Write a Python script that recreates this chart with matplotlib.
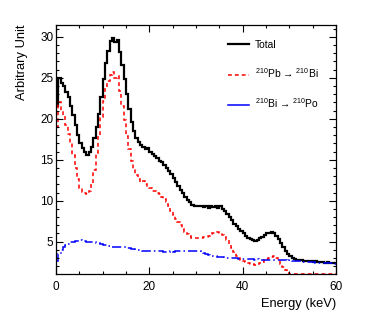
import numpy as np
import matplotlib
matplotlib.use('Agg')
import matplotlib.pyplot as plt
from matplotlib.lines import Line2D

plt.rcParams['font.family'] = ['Liberation Sans', 'DejaVu Sans']
plt.rcParams['mathtext.fontset'] = 'custom'
plt.rcParams['mathtext.rm'] = 'Liberation Sans'
plt.rcParams['mathtext.it'] = 'Liberation Sans:italic'

# energy bins, 0.5 keV wide
edges = np.arange(0, 60.01, 0.5)

total = [21.5, 25.0, 24.4, 24.0, 23.3, 22.6, 21.6, 20.5, 19.2, 18.0, 17.1, 16.4,
         15.9, 15.6, 15.9, 16.6, 17.6, 19.0, 20.6, 22.6, 24.8, 26.8, 28.3, 29.5,
         29.9, 29.4, 29.6, 28.2, 26.6, 24.8, 23.0, 21.2, 19.6, 18.5, 17.7, 17.2,
         16.8, 16.5, 16.3, 16.4, 15.9, 15.7, 15.4, 15.2, 14.9, 14.7, 14.3, 14.0,
         13.6, 13.2, 12.8, 12.3, 11.8, 11.3, 10.9, 10.5, 10.1, 9.8, 9.5, 9.4,
         9.3, 9.4, 9.3, 9.2, 9.3, 9.1, 9.3, 9.2, 9.4, 9.1, 9.3, 9.0,
         8.8, 8.4, 8.0, 7.6, 7.2, 6.9, 6.6, 6.3, 6.0, 5.7, 5.5, 5.3,
         5.2, 5.1, 5.2, 5.4, 5.6, 5.8, 6.0, 6.1, 6.2, 6.0, 5.7, 5.3,
         4.8, 4.3, 3.9, 3.5, 3.2, 3.0, 2.9, 2.8, 2.7, 2.7, 2.6, 2.6,
         2.6, 2.6, 2.5, 2.6, 2.5, 2.5, 2.5, 2.4, 2.5, 2.4, 2.4, 2.4]

pb210 = [19.0, 22.0, 21.0, 20.4, 19.3, 18.2, 17.0, 15.6, 14.0, 12.6, 11.6, 11.1,
         10.9, 10.8, 11.2, 12.2, 13.7, 15.8, 18.0, 20.2, 22.2, 23.8, 24.6, 25.3,
         25.7, 25.0, 25.2, 23.4, 21.6, 19.8, 17.9, 16.3, 14.9, 13.9, 13.1, 12.6,
         12.3, 12.4, 12.0, 11.7, 11.5, 11.2, 11.2, 10.9, 10.8, 10.5, 10.2, 9.8,
         9.3, 8.8, 8.3, 7.8, 7.4, 7.0, 6.6, 6.2, 5.9, 5.7, 5.5, 5.4,
         5.4, 5.5, 5.5, 5.6, 5.6, 5.7, 5.9, 6.0, 6.1, 6.2, 6.0, 5.8,
         5.6, 5.2, 4.7, 4.2, 3.7, 3.3, 3.0, 2.8, 2.6, 2.5, 2.4, 2.3,
         2.3, 2.2, 2.2, 2.4, 2.5, 2.7, 2.9, 3.0, 3.1, 3.2, 3.0, 2.7,
         2.3, 1.9, 1.5, 1.2, 0, 0, 0, 0, 0, 0, 0, 0,
         0, 0, 0, 0, 0, 0, 0, 0, 0, 0, 0, 0]

bi210 = [2.6, 3.5, 4.0, 4.3, 4.6, 4.7, 4.9, 5.0, 5.1, 5.1, 5.2, 5.1,
         5.1, 5.0, 5.0, 4.9, 4.9, 4.8, 4.8, 4.7, 4.6, 4.6, 4.5, 4.4,
         4.4, 4.4, 4.3, 4.3, 4.3, 4.3, 4.2, 4.2, 4.1, 4.1, 4.0, 4.0,
         4.0, 3.9, 3.9, 3.9, 3.9, 3.9, 3.8, 3.8, 3.8, 3.8, 3.7, 3.7,
         3.7, 3.8, 3.7, 3.8, 3.8, 3.9, 3.9, 3.9, 3.9, 3.8, 3.8, 3.8,
         3.8, 3.8, 3.7, 3.6, 3.5, 3.4, 3.3, 3.2, 3.2, 3.1, 3.1, 3.1,
         3.0, 3.0, 3.0, 3.0, 3.0, 3.0, 2.9, 2.9, 2.9, 2.9, 2.9, 2.9,
         2.9, 2.8, 2.9, 2.8, 2.8, 2.8, 2.8, 2.8, 2.8, 2.7, 2.8, 2.7,
         2.7, 2.7, 2.7, 2.6, 2.7, 2.6, 2.6, 2.6, 2.6, 2.5, 2.5, 2.5,
         2.5, 2.5, 2.5, 2.4, 2.4, 2.4, 2.4, 2.4, 2.4, 2.4, 2.4, 2.3]

labels = ['Total', r'$^{210}$Pb → $^{210}$Bi', r'$^{210}$Bi → $^{210}$Po']

ylo, yhi = 1.05, 31.45

fig = plt.figure(figsize=(3.74, 3.16), dpi=100)
ax = fig.add_axes([56/374, 42/316, 280/374, 249/316])

ax.stairs(total, edges, baseline=None, color='black', lw=1.6)
# ROOT draws empty bins on the lower frame edge
ax.stairs(np.clip(pb210, ylo, None), edges, baseline=None, color='#ff0000', lw=1.1,
          linestyle=(0, (2.5, 2)), clip_on=False)
ax.stairs(bi210, edges, baseline=None, color='#0000ff', lw=1.1,
          linestyle=(0, (6, 2, 1, 2)))

ax.set_xlim(0, 60)
ax.set_ylim(ylo, yhi)
ax.set_xticks([0, 20, 40, 60])
ax.set_xticks(np.arange(0, 61, 5), minor=True)
ax.set_yticks([5, 10, 15, 20, 25, 30])
ax.set_yticks(np.arange(2, 32, 1), minor=True)

ax.tick_params(which='both', direction='in', top=True, right=True, labelsize=8.5, width=0.8)
ax.tick_params(which='major', length=5)
ax.tick_params(which='minor', length=2.5)
ax.tick_params(axis='y', pad=2)
ax.tick_params(axis='x', pad=5)
for s in ax.spines.values():
    s.set_linewidth(0.9)

ax.set_xlabel('Energy (keV)', loc='right', fontsize=9.3)
ax.xaxis.set_label_coords(1.0, -0.095)
ax.set_ylabel('Arbitrary Unit', loc='top', fontsize=9.3)
ax.yaxis.set_label_coords(-0.10, 1.0)

handles = [Line2D([], [], color='black', lw=1.6),
           Line2D([], [], color='#ff0000', lw=1.1, linestyle=(0, (2.5, 2))),
           Line2D([], [], color='#0000ff', lw=1.1)]
ax.legend(handles, labels, loc='upper left', bbox_to_anchor=(0.615, 0.94), frameon=False,
          fontsize=7.4, borderpad=0, borderaxespad=0, handlelength=2.0,
          handletextpad=0.6, labelspacing=1.6)

fig.savefig('out.png', dpi=100)
